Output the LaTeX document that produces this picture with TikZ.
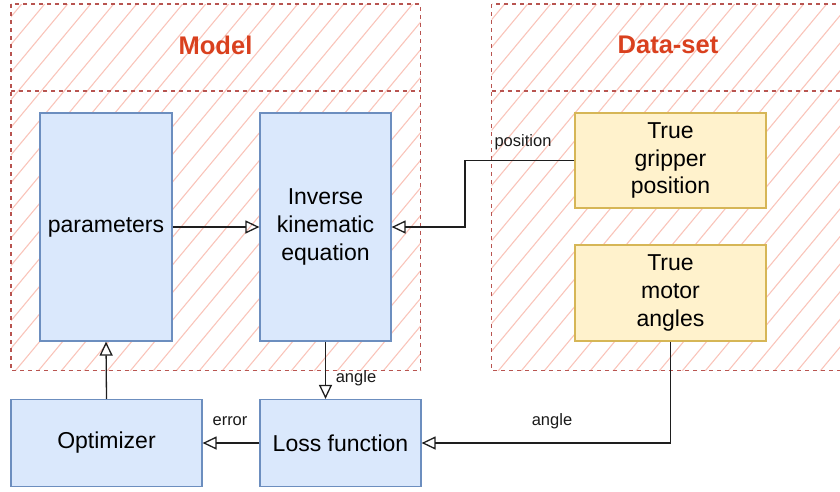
\documentclass[tikz,border=0pt]{standalone}
\usepackage{fontspec}
\setmainfont{Liberation Sans}
\usetikzlibrary{arrows.meta}
\definecolor{hatchred}{RGB}{249,196,186}
\definecolor{borderred}{RGB}{184,84,80}
\definecolor{titlered}{RGB}{217,64,30}
\definecolor{bluefill}{HTML}{DAE8FC}
\definecolor{bluestroke}{HTML}{6C8EBF}
\definecolor{yelfill}{HTML}{FFF2CC}
\definecolor{yelstroke}{HTML}{D6B656}
\definecolor{linegray}{RGB}{30,30,30}
\tikzset{
  box/.style={draw=bluestroke, fill=bluefill, line width=1.2pt, align=center, inner sep=0pt,
    font=\fontsize{23}{27.6}\selectfont},
  ybox/.style={box, draw=yelstroke, fill=yelfill},
  conn/.style={draw=linegray, line width=1.3pt, -{Triangle[open, length=14pt, width=13pt]}},
  lbl/.style={font=\fontsize{16.5}{20}\selectfont, text=black!90, inner sep=0pt},
  titletext/.style={font=\bfseries\fontsize{25.5}{30}\selectfont, text=titlered},
  cont/.style={draw=borderred, line width=1.2pt, dash pattern=on 4pt off 4pt},
  hatchline/.style={draw=hatchred, line width=1.1pt},
}
\begin{document}
\begin{tikzpicture}[x=1pt, y=-1pt]
\useasboundingbox (0,0) rectangle (840,491);
% containers: hatch fill
\begin{scope}
  \clip (11,4) rectangle (420.5,370.5);
  \foreach \x in {-400,-377,...,900} \draw[hatchline] (\x,400) -- ++(333,-400);
\end{scope}
\begin{scope}
  \clip (491.5,4) rectangle (845,370.5);
  \foreach \x in {-400,-377,...,1300} \draw[hatchline] (\x,400) -- ++(333,-400);
\end{scope}
% container outlines
\draw[cont] (11,4) rectangle (420.5,370.5);
\draw[cont] (11,91) -- (420.5,91);
\draw[cont] (491.5,4) rectangle (845,370.5);
\draw[cont] (491.5,91) -- (845,91);
\node[titletext] (tmodel) at (215.5,45) {Model};
\node[titletext] (tdata) at (668,45) {Data-set};
% boxes
\node[box, minimum width=132pt, minimum height=228pt] (par) at (106,227) {parameters};
\node[box, minimum width=131pt, minimum height=228pt] (ik) at (325.5,227) {Inverse\\kinematic\\equation};
\node[ybox, minimum width=191pt, minimum height=95pt] (grip) at (670.5,160.5) {True\\gripper\\position};
\node[ybox, minimum width=191pt, minimum height=96pt] (motor) at (670.5,293) {True\\motor\\angles};
\node[box, minimum width=191pt, minimum height=87pt] (opt) at (106.5,443) {Optimizer};
\node[box, minimum width=161pt, minimum height=87pt] (loss) at (340.5,443) {Loss function};
% connectors
\coordinate (bend) at (465,0);
\draw[conn] (par.east) -- (ik.west);
\draw[conn] (grip.west) -- (grip.west -| bend) |- (ik.east);
\draw[conn] (ik.south) -- (ik.south |- loss.north);
\draw[conn] (motor.south) |- (loss.east);
\draw[conn] (loss.west) -- (opt.east);
\draw[conn] (opt.north) -- (par.south);
% labels
\node[lbl] (lpos) at (523,142) {position};
\node[lbl] (lang1) at (356,378) {angle};
\node[lbl] (lang2) at (552,421) {angle};
\node[lbl] (lerr) at (230,421) {error};
\end{tikzpicture}
\end{document}
